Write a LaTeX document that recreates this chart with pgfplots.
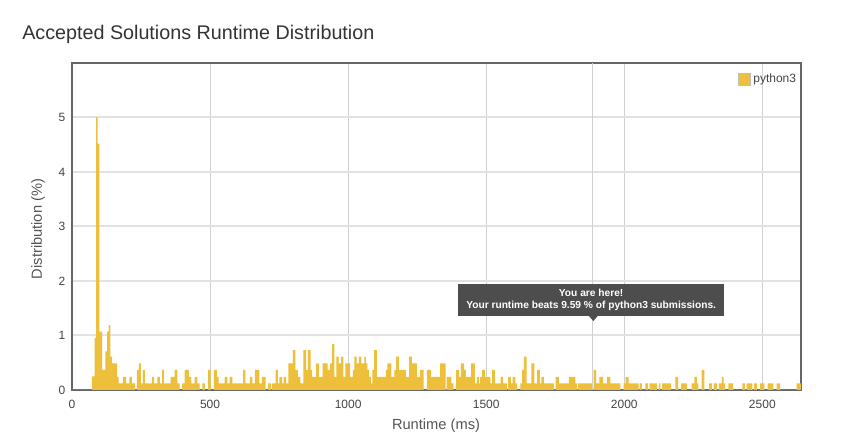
\documentclass[border=0pt]{standalone}
\usepackage{pgfplots}
\pgfplotsset{compat=1.18}
\usepackage{fontspec}
\setmainfont{Liberation Sans}
\definecolor{barcolor}{RGB}{237,191,59}
\definecolor{framecol}{RGB}{102,102,102}
\definecolor{tipgray}{RGB}{77,77,77}
\definecolor{titlecol}{RGB}{51,51,51}
\definecolor{labcol}{RGB}{85,85,85}
\definecolor{tickcol}{RGB}{68,68,68}
\definecolor{hgrid}{RGB}{226,226,226}
\definecolor{vgrid}{RGB}{208,208,208}
\begin{document}
\begin{tikzpicture}
\path[use as bounding box] (0pt,0pt) rectangle (632.25pt,336pt);
\node[anchor=west, text=titlecol, font=\fontsize{14.8}{17}\selectfont, inner sep=0pt] at (16.5pt,310pt) {Accepted Solutions Runtime Distribution};
\node[text=labcol, font=\fontsize{11}{12}\selectfont, inner sep=0pt] at (327pt,16.5pt) {Runtime (ms)};
\node[text=labcol, font=\fontsize{11}{12}\selectfont, inner sep=0pt, rotate=90] at (28.5pt,164.25pt) {Distribution (\%)};
\begin{axis}[
  at={(54pt,43.5pt)}, anchor=south west,
  width=546.75pt, height=245.25pt, scale only axis,
  xmin=0, xmax=2640, ymin=0, ymax=6,
  xtick={0,500,...,2500}, ytick={0,1,2,3,4,5},
  scaled x ticks=false,
  /pgf/number format/1000 sep={},
  /pgf/number format/assume math mode=true,
  major tick length=0pt,
  tick label style={font=\fontsize{9}{10}\selectfont, text=tickcol},
  xticklabel style={yshift=-4pt},
  yticklabel style={xshift=-1.5pt},
  xmajorgrids, ymajorgrids,
  x grid style={vgrid, line width=0.75pt},
  y grid style={hgrid, line width=1.5pt},
  axis line style={framecol, line width=1.5pt},
  legend style={draw=none, fill=none, at={(1,1)}, anchor=north east, xshift=-1.5pt, yshift=-6pt, font=\fontsize{9}{10}\selectfont, inner sep=0pt, text=tickcol},
  legend image code/.code={\draw[fill=barcolor, draw=black!25] (0pt,-4.5pt) rectangle (9pt,4.5pt);},
]
\addplot[vgrid, line width=0.75pt, forget plot] coordinates {(1884,0) (1884,6)};
\addplot[const plot, fill=barcolor, draw=none] table {
x y
0 0
72 0.25
82 0.95
87 5.0
93 4.52
99 1.07
109 0.37
121 0.71
127 1.07
133 1.19
139 0.61
145 0.49
163 0.24
169 0.12
184 0.24
196 0.12
208 0.24
217 0.12
229 0
235 0.37
242 0.49
249 0.12
257 0.37
264 0.12
290 0.24
297 0.12
309 0.24
318 0.12
326 0.37
333 0.12
357 0.24
372 0.37
382 0.12
390 0
399 0.12
408 0.37
423 0.24
432 0.12
444 0.24
454 0.12
462 0
472 0.12
481 0
493 0.37
502 0
514 0.37
525 0.24
531 0.12
553 0.24
563 0.12
571 0.24
581 0.12
620 0.37
628 0.12
644 0.24
653 0.12
662 0.37
679 0.12
688 0.24
701 0
710 0.12
721 0
725 0.12
737 0.37
746 0.12
751 0.24
761 0.12
766 0.24
775 0.12
784 0.49
800 0.73
809 0.37
818 0.24
827 0.12
838 0.73
848 0.37
854 0.73
864 0.37
870 0.24
884 0.49
894 0.24
908 0.49
926 0.37
935 0.49
942 0.84
950 0.24
957 0.61
966 0.49
975 0.61
983 0.24
990 0.49
1007 0.24
1017 0.37
1023 0.61
1031 0.49
1039 0.61
1048 0.49
1059 0.61
1064 0.49
1070 0.37
1076 0.24
1082 0.12
1088 0.37
1094 0.73
1104 0.24
1137 0.37
1142 0.49
1157 0.24
1167 0.37
1174 0.61
1184 0.37
1209 0.24
1221 0.61
1231 0.49
1249 0.24
1261 0.37
1273 0
1285 0.37
1300 0.24
1333 0.49
1353 0
1357 0.24
1374 0.12
1381 0
1391 0.37
1402 0.24
1408 0.49
1420 0.37
1426 0.24
1445 0.49
1459 0.12
1466 0.24
1473 0.12
1478 0.24
1485 0.37
1495 0.24
1515 0.12
1521 0.37
1531 0.12
1552 0.24
1561 0.12
1575 0
1579 0.24
1589 0.12
1596 0.24
1606 0.12
1612 0
1624 0.12
1630 0.37
1636 0.61
1646 0.12
1664 0.49
1674 0.12
1684 0.37
1694 0.12
1700 0.24
1709 0.12
1745 0
1751 0.24
1763 0.12
1799 0.24
1823 0.12
1829 0
1833 0.12
1883 0
1889 0.37
1898 0.12
1910 0.24
1923 0.12
1938 0.24
1950 0.12
1986 0
1998 0.12
2005 0.24
2016 0.12
2052 0
2056 0.12
2064 0
2076 0.12
2086 0
2092 0.12
2119 0
2125 0.12
2131 0
2137 0.12
2170 0
2185 0.24
2195 0
2206 0.12
2227 0
2244 0.12
2254 0.24
2263 0.12
2268 0
2280 0.37
2290 0
2307 0.12
2317 0
2324 0.12
2336 0
2343 0.12
2353 0.24
2360 0.12
2365 0
2377 0.12
2394 0
2428 0.12
2437 0
2443 0.12
2464 0
2470 0.12
2480 0
2492 0.12
2507 0
2519 0.12
2540 0
2552 0.12
2564 0
2624 0.12
2640 0.12
} \closedcycle;
\addlegendentry{python3}
\node[fill=tipgray, text=white, font=\bfseries\fontsize{7.65}{8.25}\selectfont, align=center, minimum width=199.5pt, minimum height=24pt, inner sep=0pt, anchor=south] at (axis cs:1880,1.355) {You are here!\\[0.3pt]Your runtime beats 9.59 \% of python3 submissions.};
\fill[tipgray] (axis cs:1872,1.36) -- (axis cs:1904,1.36) -- (axis cs:1888,1.264) -- cycle;
\end{axis}
\end{tikzpicture}
\end{document}
